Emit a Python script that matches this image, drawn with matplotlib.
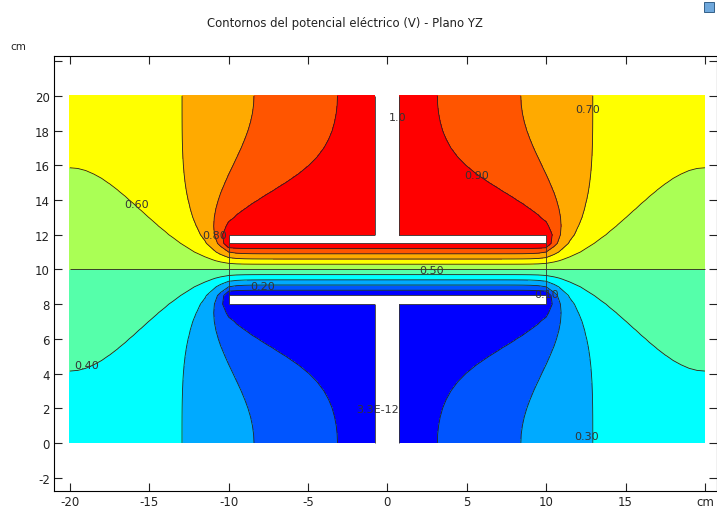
import numpy as np
import matplotlib.pyplot as plt
from matplotlib.patches import Rectangle

# model box (cm): horizontal -20..20, vertical 0..20, depth -20..20
half_size = 20.0
half_depth = 20.0
height = 20.0

# electrodes of the capacitor: rectangular plates and round rods
# plates: half width, half depth, y0, y1, potential (V)
plates = [(10.0, 7.5, 11.5, 12.0, 1.0), (10.0, 7.5, 8.0, 8.5, 0.0)]
# rods: radius, y0, y1, potential (V)
stems = [(0.75, 12.0, 20.0, 1.0), (0.75, 0.0, 8.0, 0.0)]

levels = [0.0, 0.1, 0.2, 0.3, 0.4, 0.5, 0.6, 0.7, 0.8, 0.9, 1.0]
band_colors = ['#0000ff', '#0055ff', '#00aaff', '#00ffff', '#55ffaa',
               '#aaff55', '#ffff00', '#ffaa00', '#ff5500', '#ff0000']

label_text = ['3.3E-12', '0.10', '0.20', '0.30', '0.40', '0.50',
              '0.60', '0.70', '0.80', '0.90', '1.0']
label_xy = [(-0.6, 1.96), (10.05, 8.59), (-7.84, 9.05), (12.57, 0.4),
            (-18.93, 4.5), (2.8, 9.97), (-15.78, 13.78), (12.63, 19.25),
            (-10.87, 11.99), (5.64, 15.45), (0.66, 18.79)]


def refine(U):
    for a in range(3):
        U = np.moveaxis(U, a, 0)
        V = np.empty((2 * U.shape[0] - 1,) + U.shape[1:])
        V[::2] = U
        V[1::2] = 0.5 * (U[:-1] + U[1:])
        U = np.moveaxis(V, 0, a)
    return U


def solve(h, iters, U=None):
    # quarter of the box (symmetry planes x=0, z=0), insulated outer faces
    gx = np.arange(0, half_size + h / 2, h)
    gy = np.arange(0, height + h / 2, h)
    gz = np.arange(0, half_depth + h / 2, h)
    X, Y, Z = np.meshgrid(gx, gy, gz, indexing='ij')
    fixed = np.zeros(X.shape, bool)
    val = np.zeros(X.shape)
    eps = 1e-9
    for hw, hd, y0, y1, v in plates:
        m = (X < hw + eps) & (Z < hd + eps) & (Y > y0 - eps) & (Y < y1 + eps)
        fixed |= m
        val[m] = v
    for r, y0, y1, v in stems:
        m = (X**2 + Z**2 < r**2 + eps) & (Y > y0 - eps) & (Y < y1 + eps)
        fixed |= m
        val[m] = v
    if U is None:
        U = np.full(X.shape, 0.5)
    U[fixed] = val[fixed]
    i, j, k = np.indices(X.shape)
    masks = [((i + j + k) % 2 == c) & ~fixed for c in (0, 1)]
    w = 2 / (1 + np.sin(np.pi / max(X.shape)))
    for _ in range(iters):
        for m in masks:
            P = np.pad(U, 1, mode='reflect')
            avg = (P[:-2, 1:-1, 1:-1] + P[2:, 1:-1, 1:-1] + P[1:-1, :-2, 1:-1]
                   + P[1:-1, 2:, 1:-1] + P[1:-1, 1:-1, :-2] + P[1:-1, 1:-1, 2:]) / 6
            U = np.where(m, U + w * (avg - U), U)
    return gx, gy, U


gx, gy, U = solve(1.0, 500)
gx, gy, U = solve(0.5, 800, refine(U))

# YZ plane = symmetry plane z=0, mirrored to the full width
x = np.concatenate([-gx[:0:-1], gx])
y = gy
V = np.concatenate([U[:0:-1, :, 0], U[:, :, 0]]).T

fig = plt.figure(figsize=(7.17, 5.1), dpi=100)
ax = fig.add_axes([54 / 717, 1 - 492 / 510, 1 - 54 / 717, (492 - 57) / 510])

fill_levels = list(levels)
fill_levels[0] -= 1e-3
fill_levels[-1] += 1e-3
ax.contourf(x, y, V, levels=fill_levels, colors=band_colors)
ax.contour(x, y, V, levels=levels[1:-1], colors='#222222', linewidths=0.6)

for hw, hd, y0, y1, v in plates:
    ax.add_patch(Rectangle((-hw, y0), 2 * hw, y1 - y0, fc='white',
                           ec='#333333', lw=0.6, zorder=3))
for r, y0, y1, v in stems:
    ax.add_patch(Rectangle((-r, y0 - 0.05), 2 * r, y1 - y0 + 0.1,
                           fc='white', ec='none', zorder=4))
    ax.vlines([-r, r], y0, y1, color='#333333', lw=0.6, zorder=5)
ax.vlines([-10, 10], 8.5, 11.5, color='#333333', lw=0.6, zorder=3)

for t, (tx, ty) in zip(label_text, label_xy):
    ax.text(tx, ty, t, fontsize=8, color='#333333', ha='center',
            va='center', zorder=6)

ax.set_xlim(-21.0, 20.76)
ax.set_ylim(-2.77, 22.3)
ax.set_xticks(np.arange(-20, 21, 5))
ax.set_xticklabels([str(v) for v in range(-20, 16, 5)] + ['cm'])
ax.set_yticks(np.arange(-2, 23, 2))
ax.set_yticklabels([str(v) for v in range(-2, 21, 2)] + [''])
ax.tick_params(direction='in', length=6, width=0.8, labelsize=8.5,
               top=True, right=True, pad=3, colors='#222222')
for s in ax.spines.values():
    s.set_linewidth(0.8)

fig.text(345 / 717, 1 - 23 / 510, 'Contornos del potencial eléctrico (V) - Plano YZ',
         ha='center', va='center', fontsize=8.4, color='#222222')
fig.text(18 / 717, 1 - 47 / 510, 'cm', ha='center', va='center', fontsize=7.5,
         color='#222222')
fig.patches.append(Rectangle((704 / 717, 1 - 13 / 510), 10 / 717, 10 / 510,
                             transform=fig.transFigure, fc='#6fa8dc',
                             ec='#1f4e79', lw=0.6, figure=fig))

fig.savefig('out.png', dpi=100)
